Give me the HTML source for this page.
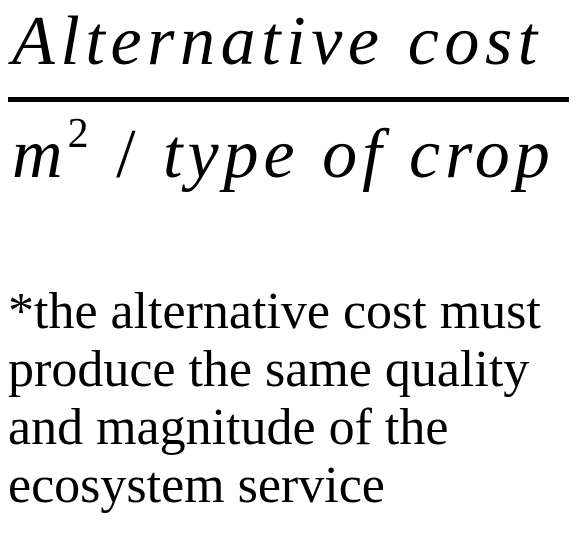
<!DOCTYPE html>
<html><head><meta charset="utf-8"><style>
html,body{margin:0;padding:0;background:#fff;width:582px;height:560px;overflow:hidden}
body{position:relative;font-family:"Liberation Serif",serif;color:#000}
.t{position:absolute;white-space:nowrap}
#num{left:12px;top:2px;font-size:70px;font-style:italic;letter-spacing:5.6px}
#bar{position:absolute;left:8px;top:97px;width:561px;height:5px;background:#000}
#den{left:12px;top:110px;font-size:70px;font-style:italic;letter-spacing:5px}
#den sup{font-size:42px;vertical-align:30px;font-style:normal}
#note{left:8px;top:283px;font-size:52px;line-height:58px}
</style></head><body>
<div class="t" id="num">Alternative cost</div>
<div id="bar"></div>
<div class="t" id="den">m<sup>2</sup> <span style="font-style:normal">/</span> type of crop</div>
<div class="t" id="note">*the alternative cost must<br>produce the same quality<br>and magnitude of the<br>ecosystem service</div>
</body></html>
